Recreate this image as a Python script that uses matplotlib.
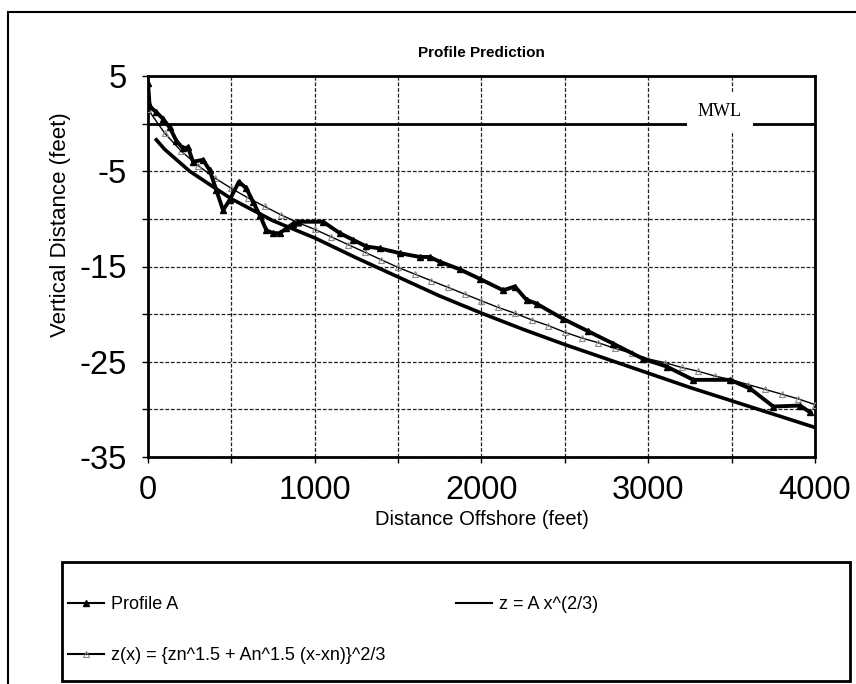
import matplotlib
matplotlib.use('Agg')
import matplotlib.pyplot as plt
import matplotlib.patches as patches
from matplotlib.ticker import MultipleLocator

plt.rcParams['font.family'] = ['Liberation Sans', 'DejaVu Sans']
plt.rcParams['axes.unicode_minus'] = False

# Profile A (measured)
profile_x = [0, 10, 50, 90, 130, 170, 210, 240, 270, 330, 370, 410, 450, 490,
             545, 590, 630, 670, 710, 750, 790, 830, 870, 900, 1050, 1150,
             1230, 1310, 1390, 1510, 1630, 1690, 1750, 1870, 1990, 2130, 2200,
             2270, 2330, 2490, 2640, 2790, 2970, 3110, 3270, 3490, 3610, 3750,
             3910, 3970]
profile_z = [4.3, 1.8, 1.2, 0.5, -0.4, -1.8, -2.6, -2.5, -4.0, -3.8, -4.9, -7.0,
             -9.1, -8.0, -6.1, -6.8, -8.2, -9.6, -11.2, -11.5, -11.5, -11.0,
             -10.5, -10.3, -10.3, -11.5, -12.2, -12.9, -13.1, -13.6, -14.0,
             -14.0, -14.5, -15.3, -16.3, -17.5, -17.1, -18.5, -18.9, -20.5,
             -21.8, -23.1, -24.7, -25.5, -26.9, -26.9, -27.8, -29.7, -29.6,
             -30.3]

# z = A x^(2/3)
dean_x = [50, 100, 250, 500, 750, 1000, 1250, 1500, 1750, 2000, 2250, 2500,
          2750, 3000, 3250, 3500, 3750, 4000]
dean_z = [-1.7, -2.7, -5.0, -7.9, -10.2, -12.0, -14.1, -16.1, -18.1, -19.9,
          -21.6, -23.2, -24.7, -26.2, -27.7, -29.1, -30.5, -31.9]

# z(x) = {zn^1.5 + An^1.5 (x-xn)}^2/3
pred_x = list(range(0, 4001, 100))
pred_z = [1.5, -1.0, -2.9, -4.4, -5.7, -6.8, -7.8, -8.7, -9.6, -10.4, -11.1,
          -11.9, -12.7, -13.5, -14.3, -15.1, -15.8, -16.5, -17.2, -17.9, -18.6,
          -19.3, -19.9, -20.6, -21.2, -21.9, -22.5, -23.0, -23.6, -24.1, -24.7,
          -25.1, -25.6, -26.0, -26.5, -26.9, -27.4, -27.9, -28.4, -28.9, -29.5]

mwl_level = 0

fig = plt.figure(figsize=(8.56, 6.84), dpi=100)
ax = fig.add_axes([148 / 856, 1 - 457 / 684, 667 / 856, 381 / 684])

ax.set_xlim(0, 4000)
ax.set_ylim(-35, 5)
ax.xaxis.set_major_locator(MultipleLocator(1000))
ax.xaxis.set_minor_locator(MultipleLocator(500))
ax.set_yticks([5, -5, -15, -25, -35])
ax.set_yticks([0, -10, -20, -30], minor=True)
ax.grid(True, which='both', color='#222222', lw=0.9, dashes=(3, 1.5))
ax.set_axisbelow(True)
ax.tick_params(which='both', direction='out', length=4, width=1, labelsize=23.5)
ax.tick_params(axis='x', pad=9)
ax.tick_params(axis='y', pad=11)
for s in ax.spines.values():
    s.set_linewidth(2)

# mean water level
ax.axhline(mwl_level, color='black', lw=2, zorder=2)
ax.text(3430, 1.3, 'MWL', family='Liberation Serif', fontsize=13,
        ha='center', va='center', zorder=3,
        bbox=dict(facecolor='white', edgecolor='none', pad=8))

h_prof, = ax.plot(profile_x, profile_z, color='black', lw=2.8, marker='^',
                  ms=5, mfc='black', mec='black', zorder=5, label='Profile A')
h_dean, = ax.plot(dean_x, dean_z, color='black', lw=2.6, zorder=4,
                  label='z = A x^(2/3)')
h_pred, = ax.plot(pred_x, pred_z, color='black', lw=1, marker='^', ms=4,
                  mfc='none', mec='#8a8a8a', mew=0.8, zorder=4,
                  label='z(x) = {zn^1.5 + An^1.5 (x-xn)}^2/3')

ax.set_title('Profile Prediction', fontsize=11, fontweight='bold', pad=14)
ax.set_xlabel('Distance Offshore (feet)', fontsize=14.5, labelpad=3)
ax.set_ylabel('Vertical Distance (feet)', fontsize=16)
ax.yaxis.set_label_coords(-0.115, 0.61)

# outer chart frame
fig.add_artist(patches.Rectangle((8 / 856, -0.05), 1.1, 1 - 12 / 684 + 0.05,
                                 transform=fig.transFigure, fill=False,
                                 ec='black', lw=1.5))
# legend frame
fig.add_artist(patches.Rectangle((62 / 856, 1 - 681 / 684), 788 / 856,
                                 119 / 684, transform=fig.transFigure,
                                 fill=False, ec='black', lw=2))
leg = fig.legend([h_prof, h_pred, h_dean],
                 [h_prof.get_label(), h_pred.get_label(), h_dean.get_label()],
                 loc='upper left', bbox_to_anchor=(59 / 856, 1 - 587 / 684),
                 ncol=2, frameon=False, fontsize=13, handlelength=2,
                 handletextpad=0.4, labelspacing=1.9, columnspacing=3.9,
                 borderpad=0)
for line in leg.get_lines():
    line.set_linewidth(1.5)

fig.savefig('out.png', dpi=100)
